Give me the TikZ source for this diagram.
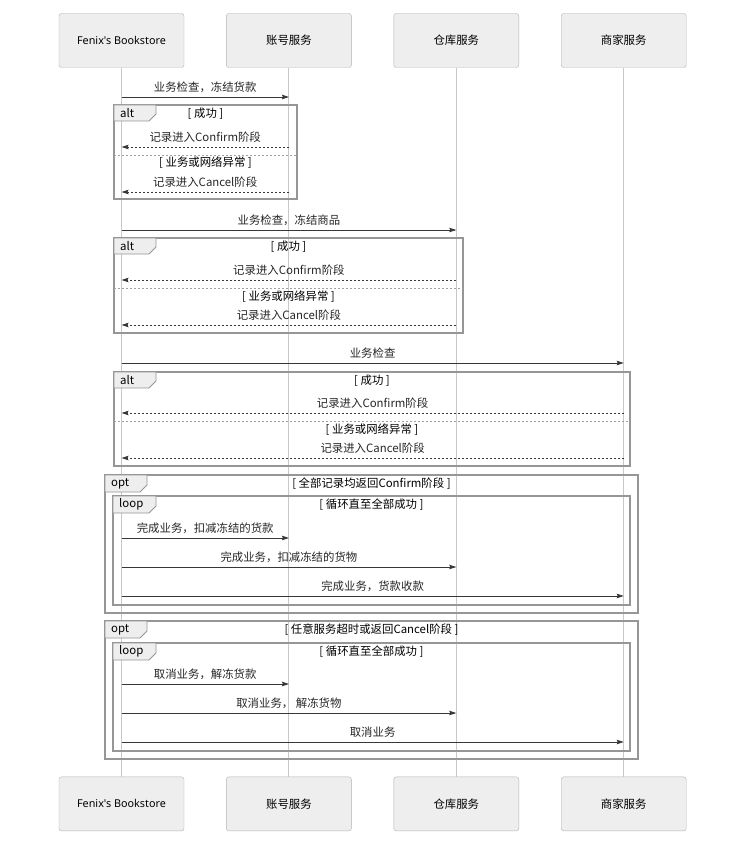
\documentclass[tikz,border=0pt]{standalone}
\usepackage{fontspec}
\setmainfont{Noto Sans CJK SC}
\newfontfamily\latinfont{Noto Sans}
\usetikzlibrary{arrows.meta,positioning}
\definecolor{boxColor}{RGB}{238,238,238}
\definecolor{boxLine}{RGB}{178,178,178}
\definecolor{lifeColor}{RGB}{200,200,200}
\definecolor{frameColor}{RGB}{150,150,150}
\definecolor{arrowColor}{RGB}{55,55,55}
\newcommand{\seqfont}{\fontsize{11.4}{13}\selectfont}
\newcommand{\shopname}{{\latinfont\fontsize{10.8}{13}\selectfont Fenix's Bookstore}}

\begin{document}
\begin{tikzpicture}[x=1pt, y=-1pt,
        actor/.style={draw=boxLine, rounded corners=2.5pt, fill=boxColor, minimum width=125pt, minimum height=54pt, align=center, font=\seqfont},
        life/.style={lifeColor, line width=0.9pt},
        arr/.style={-{Stealth[length=7pt, width=4.5pt, inset=1pt]}, line width=0.8pt, arrowColor},
        ret/.style={-{Stealth[length=7pt, width=4.5pt, inset=1pt]}, line width=0.8pt, arrowColor, dash pattern=on 2pt off 2pt},
        lbl/.style={font=\seqfont, text=black!85, inner sep=0pt, anchor=south, yshift=4pt},
        frm/.style={frameColor, line width=1.1pt},
        tab/.style={frameColor, line width=0.9pt, fill=boxColor},
        tabtxt/.style={font=\seqfont, anchor=west, inner sep=0pt},
        guard/.style={font=\seqfont, inner sep=0pt},
        divider/.style={lifeColor!80!black, line width=0.9pt, dash pattern=on 2pt off 2pt},
        node distance=42pt
      ]
      \useasboundingbox (0,0) rectangle (729,845);

      % participants
      \node[actor] at (121.5,40.5) (shop) {\shopname};
      \node[actor, right=of shop] (acct) {账号服务};
      \node[actor, right=of acct] (stock) {仓库服务};
      \node[actor, right=of stock] (merch) {商家服务};
      \node[actor, below=709pt of shop] (shopB) {\shopname};
      \node[actor, below=709pt of acct] (acctB) {账号服务};
      \node[actor, below=709pt of stock] (stockB) {仓库服务};
      \node[actor, below=709pt of merch] (merchB) {商家服务};

      \draw[life] (shop) -- (shopB);
      \draw[life] (acct) -- (acctB);
      \draw[life] (stock) -- (stockB);
      \draw[life] (merch) -- (merchB);

      % account service
      \draw[arr] (shop.south |- 0,97) -- node[lbl] (m1) {业务检查，冻结货款} (acct.south |- 0,97);
      \draw[frm] (114,105) rectangle (297,199);
      \draw[tab] (114,105) -- (156,105) -- (156,114) -- (149,121) -- (114,121) -- cycle;
      \node[tabtxt] (alt1) at (120,113) {alt};
      \node[guard] (g1a) at (205.5,113.5) {[ 成功 ]};
      \draw[ret] (acct.south |- 0,147) -- node[lbl] (r1a) {记录进入Confirm阶段} (shop.south |- 0,147);
      \draw[divider] (114,155) -- (297,155);
      \node[guard] (g1b) at (205.5,162.5) {[ 业务或网络异常 ]};
      \draw[ret] (acct.south |- 0,192) -- node[lbl] (r1b) {记录进入Cancel阶段} (shop.south |- 0,192);

      % warehouse service
      \draw[arr] (shop.south |- 0,230) -- node[lbl] (m2) {业务检查，冻结商品} (stock.south |- 0,230);
      \draw[frm] (114,238) rectangle (463,333);
      \draw[tab] (114,238) -- (156,238) -- (156,247) -- (149,254) -- (114,254) -- cycle;
      \node[tabtxt] (alt2) at (120,246) {alt};
      \node[guard] (g2a) at (288.5,246.5) {[ 成功 ]};
      \draw[ret] (stock.south |- 0,280) -- node[lbl] (r2a) {记录进入Confirm阶段} (shop.south |- 0,280);
      \draw[divider] (114,288) -- (463,288);
      \node[guard] (g2b) at (288.5,296.5) {[ 业务或网络异常 ]};
      \draw[ret] (stock.south |- 0,325) -- node[lbl] (r2b) {记录进入Cancel阶段} (shop.south |- 0,325);

      % merchant service
      \draw[arr] (shop.south |- 0,363) -- node[lbl] (m3) {业务检查} (merch.south |- 0,363);
      \draw[frm] (114,372) rectangle (630,466);
      \draw[tab] (114,372) -- (156,372) -- (156,381) -- (149,388) -- (114,388) -- cycle;
      \node[tabtxt] (alt3) at (120,380) {alt};
      \node[guard] (g3a) at (372,380.5) {[ 成功 ]};
      \draw[ret] (merch.south |- 0,413) -- node[lbl] (r3a) {记录进入Confirm阶段} (shop.south |- 0,413);
      \draw[divider] (114,421) -- (630,421);
      \node[guard] (g3b) at (372,429.5) {[ 业务或网络异常 ]};
      \draw[ret] (merch.south |- 0,458) -- node[lbl] (r3b) {记录进入Cancel阶段} (shop.south |- 0,458);

      % confirm
      \draw[frm] (105,475) rectangle (638,613);
      \draw[tab] (105,475) -- (147,475) -- (147,485) -- (140,492) -- (105,492) -- cycle;
      \node[tabtxt] (opt1) at (111,483.5) {opt};
      \node[guard] (g4) at (371.5,484) {[ 全部记录均返回Confirm阶段 ]};
      \draw[frm] (113,496) rectangle (630,605);
      \draw[tab] (113,496) -- (156,496) -- (156,506) -- (149,513) -- (113,513) -- cycle;
      \node[tabtxt] (loop1) at (119,504.5) {loop};
      \node[guard] (g5) at (371.5,505) {[ 循环直至全部成功 ]};
      \draw[arr] (shop.south |- 0,538) -- node[lbl] (c1) {完成业务，扣减冻结的货款} (acct.south |- 0,538);
      \draw[arr] (shop.south |- 0,567) -- node[lbl] (c2) {完成业务，扣减冻结的货物} (stock.south |- 0,567);
      \draw[arr] (shop.south |- 0,596) -- node[lbl] (c3) {完成业务，货款收款} (merch.south |- 0,596);

      % cancel
      \draw[frm] (105,621) rectangle (638,759);
      \draw[tab] (105,621) -- (147,621) -- (147,631) -- (140,638) -- (105,638) -- cycle;
      \node[tabtxt] (opt2) at (111,629.5) {opt};
      \node[guard] (g6) at (371.5,630) {[ 任意服务超时或返回Cancel阶段 ]};
      \draw[frm] (113,643) rectangle (630,751);
      \draw[tab] (113,643) -- (156,643) -- (156,653) -- (149,660) -- (113,660) -- cycle;
      \node[tabtxt] (loop2) at (119,651) {loop};
      \node[guard] (g7) at (371.5,651.5) {[ 循环直至全部成功 ]};
      \draw[arr] (shop.south |- 0,684) -- node[lbl] (x1) {取消业务，解冻货款} (acct.south |- 0,684);
      \draw[arr] (shop.south |- 0,713) -- node[lbl] (x2) {取消业务， 解冻货物} (stock.south |- 0,713);
      \draw[arr] (shop.south |- 0,742) -- node[lbl] (x3) {取消业务} (merch.south |- 0,742);
    \end{tikzpicture}
\end{document}
